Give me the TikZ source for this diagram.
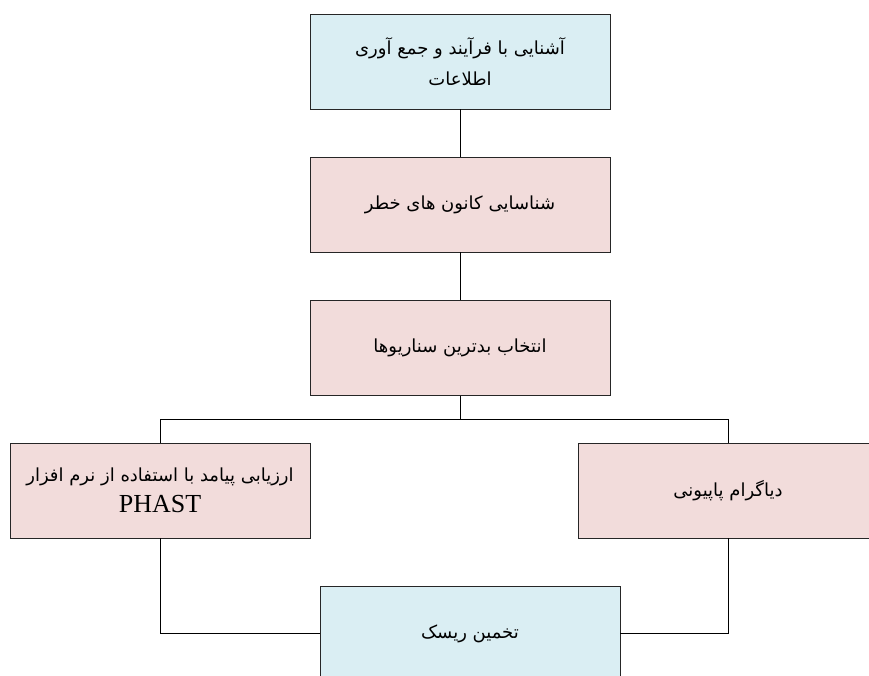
\documentclass[tikz,border=0pt]{standalone}
\usepackage{fontspec}
\setmainfont{Liberation Serif}
\newfontfamily\farsi[Script=Arabic]{DejaVu Sans}
\TeXXeTstate=1
\definecolor{stepblue}{HTML}{DAEEF3}
\definecolor{steppink}{HTML}{F2DCDB}
\tikzset{
    stepbox/.style={draw=black!85, line width=0.8pt, minimum width=300pt, minimum height=95pt,
        align=center, inner sep=0pt, font=\farsi\fontsize{18}{31}\selectfont},
    bluebox/.style={stepbox, fill=stepblue},
    pinkbox/.style={stepbox, fill=steppink},
    link/.style={draw=black, line width=0.8pt}
}
\begin{document}
\begin{tikzpicture}[x=1pt,y=-1pt]
        \clip (0,0) rectangle (869,675);
        \fill[white] (0,0) rectangle (869,675);

        \node[bluebox] (info) at (460,61.5) {\beginR آشنایی با فرآیند و جمع آوری\endR\\\beginR اطلاعات\endR};
        \node[pinkbox] (hazard) at (460,204.5) {\beginR شناسایی کانون های خطر\endR};
        \node[pinkbox] (worst) at (460,348) {\beginR انتخاب بدترین سناریوها\endR};

        \coordinate (split) at (460,419);

        \node[pinkbox] (phast) at (160,490.5) {\beginR ارزیابی پیامد با استفاده از نرم افزار\endR\\{\rmfamily\fontsize{26}{33}\selectfont PHAST}};
        \node[pinkbox] (bowtie) at (728,490.5) {\beginR دیاگرام پاپیونی\endR};

        \node[bluebox] (risk) at (470,633.5) {\beginR تخمین ریسک\endR};

        \draw[link] (info) -- (hazard);
        \draw[link] (hazard) -- (worst);
        \draw[link] (worst) -- (split);
        \draw[link] (split) -| (phast);
        \draw[link] (split) -| (bowtie);

        \draw[link] (phast) |- (risk);
        \draw[link] (bowtie) |- (risk);
    \end{tikzpicture}
\end{document}
